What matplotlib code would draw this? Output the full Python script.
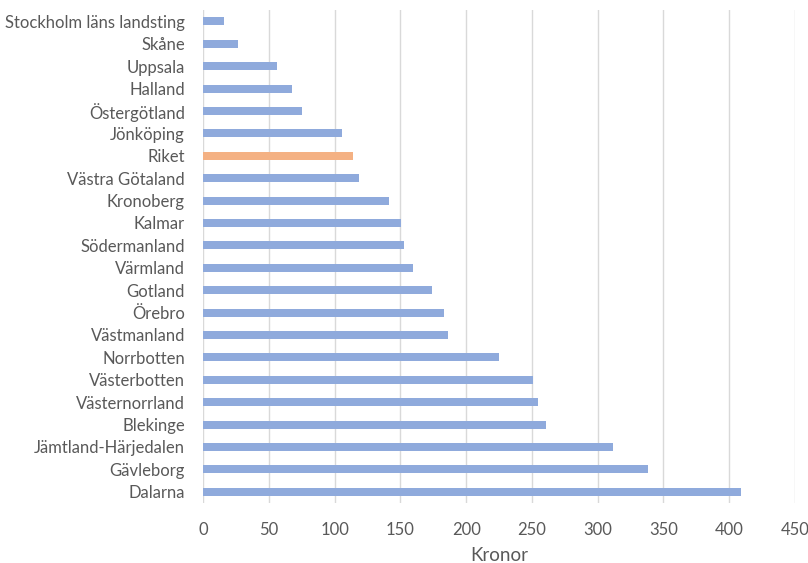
import matplotlib.pyplot as plt

regioner = [
    "Stockholm läns landsting", "Skåne", "Uppsala", "Halland", "Östergötland",
    "Jönköping", "Riket", "Västra Götaland", "Kronoberg", "Kalmar",
    "Södermanland", "Värmland", "Gotland", "Örebro", "Västmanland",
    "Norrbotten", "Västerbotten", "Västernorrland", "Blekinge",
    "Jämtland-Härjedalen", "Gävleborg", "Dalarna",
]
kronor = [
    16, 27, 56, 68, 75, 106, 114, 118.5, 141.5, 150.5, 152.5,
    159.5, 174, 183.5, 186, 225, 250.5, 255, 261, 312, 338, 409,
]

BLA = "#8FAADC"
ORANGE = "#F4B183"
GRA = "#595959"

plt.rcParams["font.family"] = ["Lato", "DejaVu Sans"]

fig = plt.figure(figsize=(8.08, 5.63), dpi=100)
ax = fig.add_axes([0.2512, 0.1066, 0.7328, 0.8754])

# Riket markeras i orange, övriga regioner i blått
farger = [ORANGE if r == "Riket" else BLA for r in regioner]
ax.barh(regioner, kronor, height=0.36, color=farger, zorder=3)

ax.set_xlim(0, 450)
ax.set_ylim(len(regioner) - 0.5, -0.5)
ax.set_xticks(range(0, 451, 50))
ax.grid(axis="x", color="#D9D9D9", linewidth=1, zorder=0)
for s in ax.spines.values():
    s.set_visible(False)
ax.tick_params(axis="both", length=0, colors=GRA, labelsize=12)
ax.tick_params(axis="y", pad=13)
ax.tick_params(axis="x", pad=14)
ax.set_xlabel("Kronor", color=GRA, fontsize=13.5, labelpad=6)

fig.savefig("out.png", dpi=100)
